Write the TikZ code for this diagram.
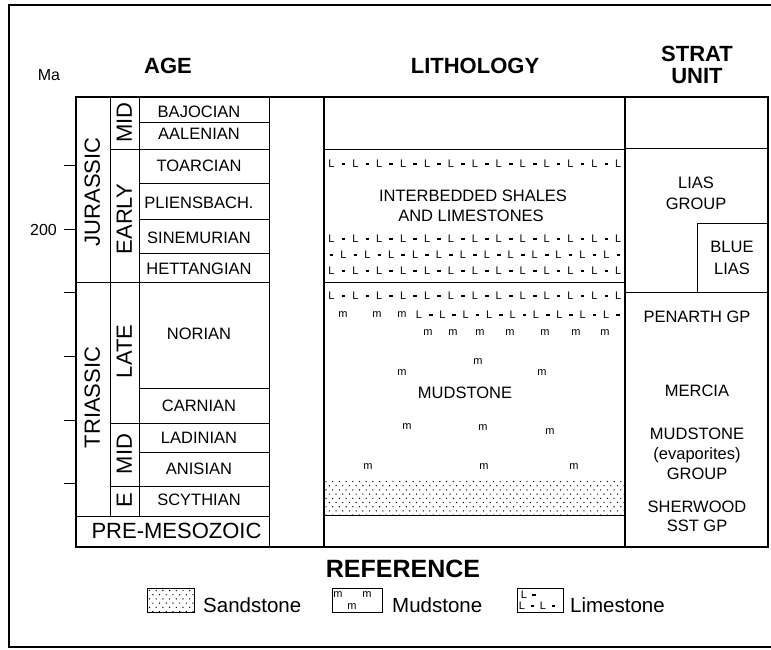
\documentclass[tikz,border=0pt]{standalone}
\usepackage{fontspec}
\setmainfont{Liberation Sans}
\begin{document}
\begin{tikzpicture}[x=1pt,y=-1pt,
  lbl/.style={font=\fontsize{16.5}{18}\selectfont, inner sep=0pt, text height=11.8pt, text depth=0pt},
  head/.style={font=\fontsize{22}{24}\selectfont\bfseries, inner sep=0pt, text height=15.8pt, text depth=0pt},
  big/.style={font=\fontsize{22}{24}\selectfont, inner sep=0pt, text height=15.8pt, text depth=0pt},
  era/.style={big, rotate=90},
  lch/.style={font=\fontsize{11}{11}\selectfont, inner sep=0pt, text height=7.9pt, text depth=0pt},
  mch/.style={font=\fontsize{11}{11}\selectfont, inner sep=0pt, text height=5.8pt, text depth=0pt},
  dsh/.style={line width=1.6pt},
  thick line/.style={line width=1.6pt},
  thin line/.style={line width=0.9pt},
  leg/.style={font=\fontsize{20.5}{22}\selectfont, inner sep=0pt, anchor=base west}
]
\useasboundingbox (0,0) rectangle (771,649);
% outer frame
\draw[line width=2.3pt] (9,5) rectangle (800,647);

% headings
\node[font=\fontsize{16}{17}\selectfont, inner sep=0pt, anchor=base] (ma) at (49,80) {Ma};
\node[head] (age) at (168,66) {AGE};
\node[head] (lith) at (475,66) {LITHOLOGY};
\node[head] (strat) at (697,54) {STRAT};
\node[head] (unit) at (697,75.5) {UNIT};

% ticks
\foreach \t in {165,229,292,356,420,483} \draw[thin line] (64,\t) -- (76,\t);
\node[font=\fontsize{16}{17}\selectfont, inner sep=0pt, anchor=base east] (ma200) at (57,235) {200};

% inner lines of age block
\draw[thin line] (110,97) -- (110,516);
\draw[thin line] (139,97) -- (139,516);
\draw[thin line] (269,97) -- (269,547);
\draw[thin line] (76,282) -- (269,282);
\foreach \yy in {149,423,486} \draw[thin line] (110,\yy) -- (269,\yy);
\foreach \yy in {122,183,219,253,388,452} \draw[thin line] (139,\yy) -- (269,\yy);
\draw[thin line] (76,516) -- (269,516);
% lithology lines
\draw[thin line] (324,149) -- (625,149);
\draw[thin line] (324,282) -- (625,282);
\draw[thin line] (324,515) -- (625,515);
% strat lines
\draw[thin line] (625,148) -- (768,148);
\draw[thin line] (625,292) -- (768,292);
\draw[thin line] (697,292) -- (697,223) -- (768,223);

% sandstone
\begin{scope}
\clip (324,479) rectangle (625,515);
\foreach \r in {0,...,8} {
  \foreach \c in {0,...,45} {
    \fill ({326+6.7*\c+mod(\r,2)*3.35},{481.5+4.2*\r}) circle (0.7);
  }
}
\end{scope}

% main borders
\draw[thick line] (76,97) rectangle (768,547);
\draw[thick line] (324,97) -- (324,547);
\draw[thick line] (625,97) -- (625,547);

% era / epoch labels
\node[era] (jur) at (92,192) {JURASSIC};
\node[era] (tri) at (92,397.5) {TRIASSIC};
\node[era] (mid1) at (124,122.5) {MID};
\node[era] (early) at (124,219) {EARLY};
\node[era] (late) at (124,351.5) {LATE};
\node[era] (mid2) at (124,454) {MID};
\node[era] (ee) at (124,500.5) {E};

% stages
\node[lbl] (s1) at (199,111.5) {BAJOCIAN};
\node[lbl] (s2) at (199,134) {AALENIAN};
\node[lbl] (s3) at (199,165.5) {TOARCIAN};
\node[lbl] (s4) at (199,202.5) {PLIENSBACH.};
\node[lbl] (s5) at (199,237.5) {SINEMURIAN};
\node[lbl] (s6) at (199,268.5) {HETTANGIAN};
\node[lbl] (s7) at (199,333.5) {NORIAN};
\node[lbl] (s8) at (199,406) {CARNIAN};
\node[lbl] (s9) at (199,437.5) {LADINIAN};
\node[lbl] (s10) at (199,469) {ANISIAN};
\node[lbl] (s11) at (199,500) {SCYTHIAN};
\node[big] (pre) at (176.5,530.5) {PRE-MESOZOIC};

% lithology patterns: L rows
\foreach \yy in {164,239,271,296} {
  \foreach \i in {0,...,12} \node[lch] at ({331.5+23.9*\i},\yy) {L};
  \foreach \i in {0,...,11} \draw[dsh] ({341.6+23.9*\i},\yy) -- ({345.3+23.9*\i},\yy);
}
\foreach \i in {0,...,12} \draw[dsh] ({329.7+23.9*\i},255) -- ({333.4+23.9*\i},255);
\foreach \i in {0,...,11} \node[lch] at ({343.45+23.9*\i},255) {L};
% mixed row
\foreach \xx in {343,377,402} \node[mch] at (\xx,315) {m};
\foreach \i in {0,...,8} {
  \node[lch] at ({419+23.4*\i},315) {L};
  \draw[dsh] ({428.9+23.4*\i},315) -- ({432.6+23.4*\i},315);
}
\foreach \xx in {428,453,480,510,545,576,605} \node[mch] at (\xx,333) {m};
\foreach \p in {(478,362),(402,373),(542,373),(407,427),(483,428),(550,432),(368,467),(484,467),(574,467)}
  \node[mch] at \p {m};

\node[lbl] (lt1) at (473,196) {INTERBEDDED SHALES};
\node[lbl] (lt2) at (471,216) {AND LIMESTONES};
\node[lbl] (lt3) at (465,393) {MUDSTONE};

% strat units
\node[lbl] (u1) at (696,183) {LIAS};
\node[lbl] (u2) at (696,204) {GROUP};
\node[lbl] (u3) at (732,247) {BLUE};
\node[lbl] (u4) at (732,268.5) {LIAS};
\node[lbl] (u5) at (697,316.5) {PENARTH GP};
\node[lbl] (u6) at (697,390.5) {MERCIA};
\node[lbl] (u7) at (697,433.5) {MUDSTONE};
\node[lbl] (u8) at (697,453.5) {(evaporites)};
\node[lbl] (u9) at (697,474) {GROUP};
\node[lbl] (u10) at (697,507) {SHERWOOD};
\node[lbl] (u11) at (697,526) {SST GP};

% legend
\node[font=\fontsize{25}{27}\selectfont\bfseries, inner sep=0pt, text height=17.9pt, text depth=0pt] (ref) at (403,568.5) {REFERENCE};
\begin{scope}
\clip (147,588) rectangle (194,612);
\foreach \r in {0,...,6} {
  \foreach \c in {0,...,8} {
    \fill ({149.5+6.7*\c+mod(\r,2)*3.35},{590.5+4.2*\r}) circle (0.7);
  }
}
\end{scope}
\draw[thin line] (147,588) rectangle (194,612);
\node[leg] (lg1) at (203,612) {Sandstone};
\draw[thin line] (332,588) rectangle (382,612);
\node[mch] at (338,595) {m};
\node[mch] at (367,595) {m};
\node[mch] at (352,606.5) {m};
\node[leg] (lg2) at (392,612) {Mudstone};
\draw[thin line] (517,588) rectangle (563,612);
\node[lch] at (524,595) {L};
\draw[dsh] (532,595) -- (535.5,595);
\node[lch] at (522,606) {L};
\draw[dsh] (530.5,606) -- (534,606);
\node[lch] at (543,606) {L};
\draw[dsh] (551.5,606) -- (555,606);
\node[leg] (lg3) at (570,612) {Limestone};
\end{tikzpicture}
\end{document}
